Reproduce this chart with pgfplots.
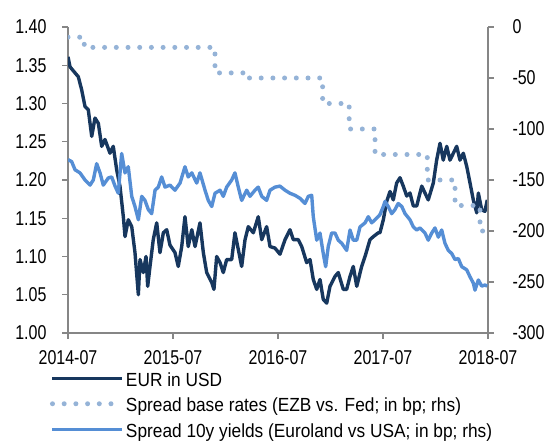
\documentclass[border=0pt]{standalone}
\usepackage{fontspec}
\setmainfont{Liberation Sans}[FakeStretch=0.91]
\newfontfamily\tickfont{Liberation Sans}[FakeStretch=0.8]
\usepackage{pgfplots}
\pgfplotsset{compat=1.18}
\definecolor{eurc}{RGB}{23,55,94}
\definecolor{tenyc}{RGB}{85,142,213}
\definecolor{basec}{RGB}{149,179,215}
\definecolor{axc}{RGB}{134,134,134}
\begin{document}
\begin{tikzpicture}
\path[use as bounding box] (0,0) rectangle (544bp,441bp);
\pgfplotsset{
  base/.style={
    scale only axis, width=420bp, height=306bp,
    at={(68bp,108bp)}, anchor=south west,
    xmin=2014.5, xmax=2018.5,
    axis line style={axc, line width=1.2bp},
    every tick/.style={axc, line width=1.2bp},
    major tick length=6bp,
    tick align=outside,
    tick label style={font=\fontsize{20bp}{24bp}\tickfont},
    /pgf/number format/assume math mode=true,
  }
}
\begin{axis}[base,
  axis y line*=left, axis x line*=bottom,
  ymin=1.00, ymax=1.40,
  ytick={1.00,1.05,1.10,1.15,1.20,1.25,1.30,1.35,1.40},
  yticklabel style={/pgf/number format/.cd, fixed, fixed zerofill, precision=2, /tikz/.cd, xshift=-12bp},
  xtick={2014.5,2015.5,2016.5,2017.5,2018.5},
  xticklabels={2014-07,2015-07,2016-07,2017-07,2018-07},
  xticklabel style={yshift=-8bp},
]
\addplot[eurc, line width=3.4bp, line join=round] coordinates {
(2014.500,1.361) (2014.519,1.348) (2014.567,1.340) (2014.598,1.335) (2014.630,1.318)
(2014.662,1.296) (2014.693,1.292) (2014.726,1.257) (2014.757,1.281) (2014.789,1.274)
(2014.821,1.244) (2014.852,1.253) (2014.900,1.235) (2014.931,1.244) (2014.964,1.213)
(2014.995,1.192) (2015.027,1.152) (2015.043,1.126) (2015.074,1.148) (2015.107,1.139)
(2015.138,1.105) (2015.170,1.050) (2015.186,1.096) (2015.217,1.079) (2015.243,1.100)
(2015.259,1.061) (2015.281,1.087) (2015.312,1.122) (2015.345,1.144) (2015.376,1.105)
(2015.408,1.131) (2015.440,1.135) (2015.471,1.115) (2015.519,1.105) (2015.550,1.087)
(2015.583,1.113) (2015.614,1.152) (2015.645,1.113) (2015.679,1.135) (2015.710,1.113)
(2015.757,1.144) (2015.789,1.105) (2015.821,1.079) (2015.869,1.066) (2015.890,1.057)
(2015.916,1.100) (2015.948,1.092) (2015.979,1.079) (2016.011,1.096) (2016.059,1.096)
(2016.090,1.131) (2016.122,1.109) (2016.154,1.087) (2016.186,1.122) (2016.217,1.139)
(2016.265,1.131) (2016.312,1.152) (2016.345,1.122) (2016.392,1.139) (2016.424,1.113)
(2016.471,1.111) (2016.519,1.103) (2016.567,1.122) (2016.614,1.135) (2016.646,1.122)
(2016.693,1.122) (2016.726,1.113) (2016.773,1.092) (2016.805,1.096) (2016.836,1.070)
(2016.869,1.057) (2016.900,1.070) (2016.931,1.044) (2016.964,1.039) (2016.995,1.061)
(2017.043,1.074) (2017.074,1.079) (2017.122,1.057) (2017.154,1.057) (2017.186,1.074)
(2017.217,1.087) (2017.250,1.061) (2017.297,1.087) (2017.329,1.100) (2017.376,1.122)
(2017.408,1.126) (2017.455,1.131) (2017.471,1.131) (2017.503,1.148) (2017.535,1.172)
(2017.567,1.185) (2017.598,1.174) (2017.630,1.196) (2017.662,1.203) (2017.693,1.192)
(2017.726,1.179) (2017.757,1.183) (2017.789,1.166) (2017.821,1.166) (2017.869,1.192)
(2017.900,1.183) (2017.931,1.174) (2017.979,1.196) (2018.011,1.226) (2018.043,1.248)
(2018.074,1.226) (2018.107,1.244) (2018.138,1.226) (2018.170,1.235) (2018.202,1.244)
(2018.233,1.226) (2018.265,1.235) (2018.297,1.218) (2018.329,1.196) (2018.360,1.174)
(2018.393,1.157) (2018.408,1.183) (2018.440,1.161) (2018.471,1.159) (2018.493,1.174)
};
\end{axis}
\begin{axis}[base,
  axis y line*=right, axis x line=none,
  ymin=-300, ymax=0,
  ytick={-300,-250,-200,-150,-100,-50,0},
  yticklabel style={xshift=15bp},
  legend cell align=left,
  legend style={draw=none, fill=none, inner sep=0pt, outer sep=0pt,
    at={(-0.0429,-0.125)}, anchor=north west,
    row sep=5.5bp, column sep=0bp,
    font=\fontsize{19bp}{23bp}\selectfont,
    nodes={inner sep=1bp, text height=14bp, text depth=4bp}},
  legend image code/.code={\draw[#1] (0bp,3bp) -- (70bp,3bp);},
]
\addlegendimage{eurc, line width=3.4bp}
\addlegendentry{EUR in USD}
\addplot[const plot, basec, line width=5bp, line cap=round, dash pattern=on 0bp off 11.7bp] coordinates {
(2014.50,-10) (2014.655,-20) (2015.90,-45) (2016.19,-50) (2016.925,-75) (2017.178,-100)
(2017.424,-125) (2017.922,-150) (2018.186,-175) (2018.424,-200) (2018.46,-200)
};
\addlegendentry{Spread base rates (EZB vs. Fed; in bp; rhs)}
\addplot[tenyc, line width=3.4bp, line join=round] coordinates {
(2014.500,-130) (2014.535,-132) (2014.567,-140) (2014.614,-143) (2014.662,-150)
(2014.710,-155) (2014.741,-150) (2014.773,-134) (2014.805,-143) (2014.836,-155)
(2014.884,-148) (2014.916,-147) (2014.948,-156) (2014.979,-163) (2015.011,-124)
(2015.043,-143) (2015.074,-137) (2015.107,-166) (2015.138,-176) (2015.170,-189)
(2015.202,-166) (2015.233,-170) (2015.265,-179) (2015.297,-183) (2015.329,-160)
(2015.360,-157) (2015.392,-147) (2015.424,-157) (2015.471,-155) (2015.519,-160)
(2015.567,-153) (2015.614,-137) (2015.645,-147) (2015.679,-143) (2015.726,-153)
(2015.757,-143) (2015.805,-160) (2015.836,-170) (2015.869,-176) (2015.900,-163)
(2015.948,-160) (2015.979,-166) (2016.011,-157) (2016.059,-150) (2016.090,-143)
(2016.122,-157) (2016.154,-170) (2016.202,-160) (2016.233,-166) (2016.281,-160)
(2016.312,-157) (2016.345,-166) (2016.392,-170) (2016.424,-160) (2016.471,-157)
(2016.519,-156) (2016.567,-160) (2016.614,-163) (2016.662,-165) (2016.710,-168)
(2016.757,-173) (2016.789,-166) (2016.821,-165) (2016.836,-186) (2016.869,-209)
(2016.900,-202) (2016.931,-222) (2016.954,-235) (2016.979,-215) (2017.011,-202)
(2017.043,-202) (2017.074,-209) (2017.107,-212) (2017.154,-219) (2017.186,-199)
(2017.217,-209) (2017.250,-209) (2017.281,-196) (2017.329,-192) (2017.360,-186)
(2017.392,-192) (2017.424,-189) (2017.471,-184) (2017.503,-176) (2017.519,-171)
(2017.550,-176) (2017.583,-183) (2017.614,-179) (2017.645,-173) (2017.679,-176)
(2017.710,-183) (2017.757,-189) (2017.789,-196) (2017.821,-199) (2017.852,-197)
(2017.900,-202) (2017.931,-209) (2017.964,-202) (2017.995,-197) (2018.027,-206)
(2018.059,-199) (2018.090,-212) (2018.122,-219) (2018.154,-222) (2018.186,-228)
(2018.217,-227) (2018.250,-235) (2018.297,-238) (2018.329,-245) (2018.360,-251)
(2018.376,-258) (2018.408,-248) (2018.440,-254) (2018.471,-253) (2018.493,-254)
};
\addlegendentry{Spread 10y yields (Euroland vs USA; in bp; rhs)}
\end{axis}
\end{tikzpicture}
\end{document}
